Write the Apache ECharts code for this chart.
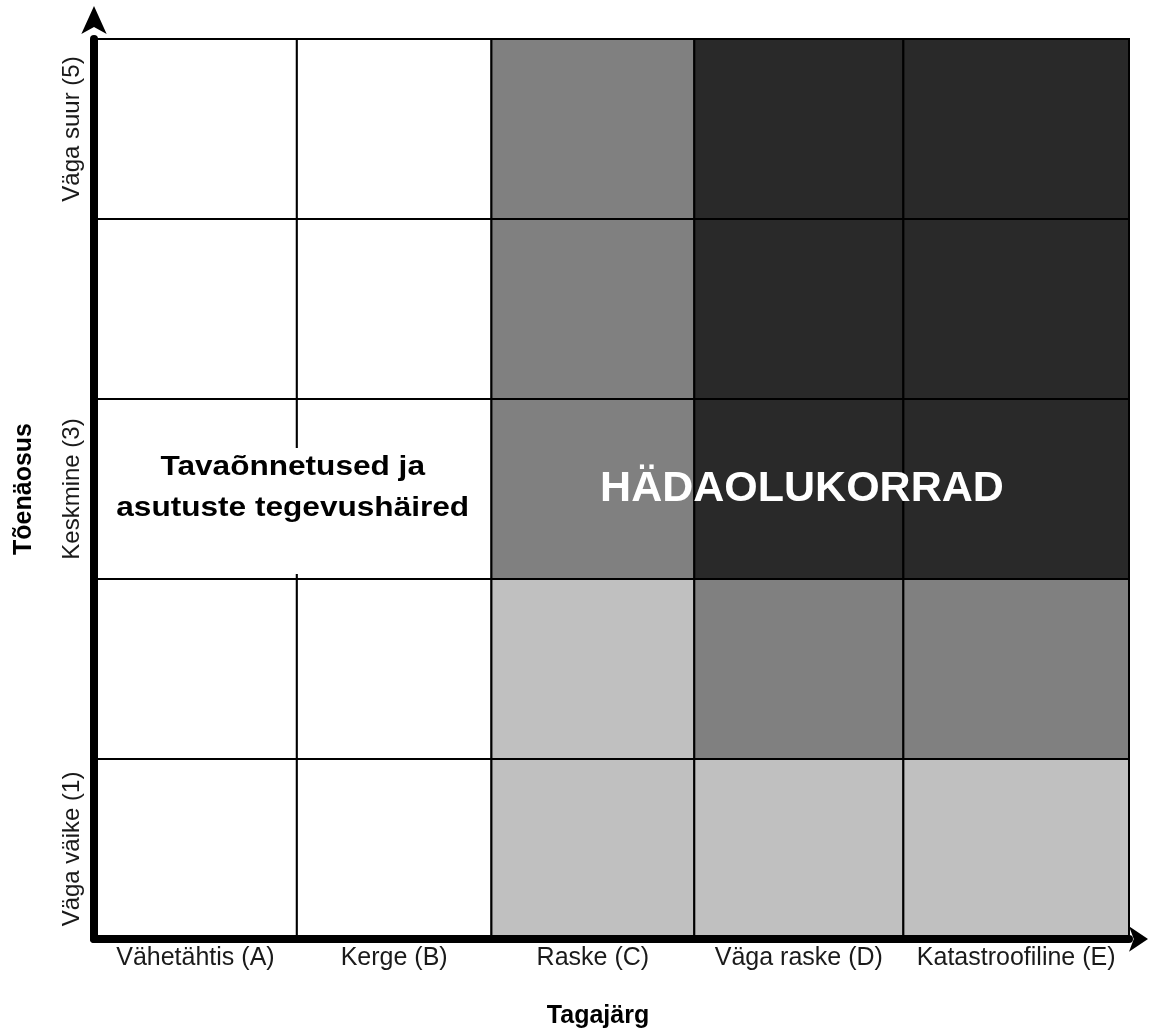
<!DOCTYPE html>
<html>
<head>
<meta charset="utf-8">
<script src="https://cdn.jsdelivr.net/npm/echarts@6/dist/echarts.min.js"></script>
<style>
html, body { margin: 0; padding: 0; background: #fff; }
#chart { width: 1149px; height: 1032px; }
</style>
</head>
<body>
<div id="chart"></div>
<script>
// tagajärg (x) ja tõenäosus (y)
const consequences = ['Vähetähtis (A)', 'Kerge (B)', 'Raske (C)', 'Väga raske (D)', 'Katastroofiline (E)']
const likelihoods = ['Väga väike (1)', 'Väike (2)', 'Keskmine (3)', 'Suur (4)', 'Väga suur (5)']
// column borders of the table in axis units, the columns are not equal
const colEdges = [0, 0.98, 1.92, 2.9, 3.91, 5]
// level of every cell, bottom row first: 0 white, 1 light, 2 grey, 3 dark
const row1 = [0, 0, 1, 1, 1]
const row2 = [0, 0, 1, 2, 2]
const row3 = [0, 0, 2, 3, 3]
const row4 = [0, 0, 2, 3, 3]
const row5 = [0, 0, 2, 3, 3]
const levelColors = ['#ffffff', '#c0c0c0', '#808080', '#292929']
const lowText = 'Tavaõnnetused ja\nasutuste tegevushäired'
const highText = 'HÄDAOLUKORRAD'
const highTextAt = 3.42

const rows = [row1, row2, row3, row4, row5]
const cells = []
rows.forEach((row, r) => {
  row.forEach((level, c) => {
    cells.push([c, r, level])
  })
})
const colCenters = consequences.map((name, i) => (colEdges[i] + colEdges[i + 1]) / 2)

const chart = echarts.init(document.getElementById('chart'))

const option = {
  animation: false,
  backgroundColor: '#fff',
  grid: {
    left: 94,
    right: 20,
    top: 39,
    bottom: 93,
    outerBoundsMode: 'none'
  },
  xAxis: {
    type: 'value',
    min: 0,
    max: 5,
    z: 10,
    name: 'Tagajärg',
    nameLocation: 'middle',
    nameGap: 65,
    nameTextStyle: {
      fontFamily: 'Liberation Sans',
      fontWeight: 'bold',
      fontSize: 25,
      color: '#000',
      padding: [0, 27, 0, 0]
    },
    axisLine: {
      show: true,
      lineStyle: { color: '#000', width: 8 },
      symbol: ['none', 'arrow'],
      symbolSize: [19, 19],
      symbolOffset: [0, 19]
    },
    axisTick: { show: false },
    splitLine: { show: false },
    axisLabel: {
      customValues: colCenters,
      margin: 7,
      fontFamily: 'Liberation Sans',
      fontSize: 25,
      color: '#1a1a1a',
      formatter: (v) => {
        const i = colCenters.findIndex(c => Math.abs(c - v) < 1e-6)
        return i >= 0 ? consequences[i] : ''
      }
    }
  },
  yAxis: {
    type: 'category',
    data: likelihoods,
    z: 10,
    name: 'Tõenäosus',
    nameLocation: 'middle',
    nameGap: 57,
    nameTextStyle: {
      fontFamily: 'Liberation Sans',
      fontWeight: 'bold',
      fontSize: 25,
      color: '#000'
    },
    axisLine: {
      show: true,
      lineStyle: { color: '#000', width: 8 },
      symbol: ['none', 'arrow'],
      symbolSize: [19, 28],
      symbolOffset: [0, 33]
    },
    axisTick: { show: false },
    splitLine: { show: false },
    axisLabel: {
      rotate: 90,
      margin: 10,
      fontFamily: 'Liberation Sans',
      fontSize: 24,
      color: '#1a1a1a'
    }
  },
  series: [{
    type: 'custom',
    encode: { x: 0, y: 1 },
    data: cells,
    renderItem: (params, api) => {
      const c = api.value(0)
      const r = api.value(1)
      const p0 = api.coord([colEdges[c], r])
      const p1 = api.coord([colEdges[c + 1], r])
      const h = api.size([0, 1])[1]
      return {
        type: 'rect',
        shape: { x: p0[0], y: p0[1] - h / 2, width: p1[0] - p0[0], height: h },
        style: { fill: levelColors[api.value(2)], stroke: '#000', lineWidth: 2 }
      }
    }
  }]
}
chart.setOption(option)

// the two area captions sit in the middle row
const lowPos = chart.convertToPixel({ gridIndex: 0 }, [(colEdges[0] + colEdges[2]) / 2, 2])
const highPos = chart.convertToPixel({ gridIndex: 0 }, [highTextAt, 2])
chart.setOption({
  graphic: [{
    // white box behind the left caption, it hides the A|B divider
    type: 'rect',
    z: 99,
    shape: { x: lowPos[0] - 185, y: lowPos[1] - 41, width: 370, height: 126 },
    style: { fill: '#fff' }
  }, {
    type: 'text',
    z: 100,
    x: lowPos[0],
    y: lowPos[1] - 1,
    scaleX: 1.17,
    style: {
      text: lowText,
      font: 'bold 27px "Liberation Sans", Arial',
      fill: '#000',
      lineHeight: 41,
      align: 'center',
      verticalAlign: 'middle'
    }
  }, {
    type: 'text',
    z: 100,
    x: highPos[0],
    y: highPos[1],
    style: {
      text: highText,
      font: 'bold 43px "Liberation Sans", Arial',
      fill: '#fff',
      align: 'center',
      verticalAlign: 'middle'
    }
  }]
})
</script>
</body>
</html>
